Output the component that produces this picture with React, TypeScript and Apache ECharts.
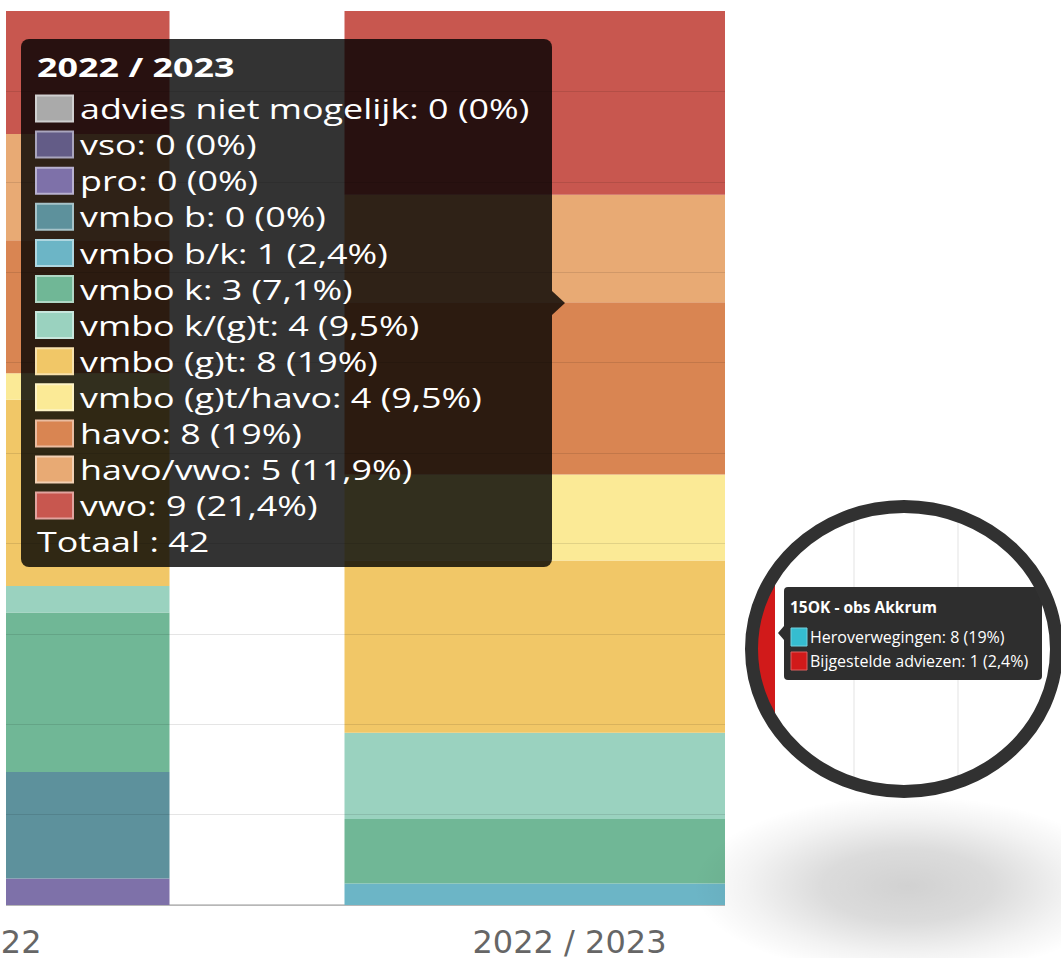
import React, { useEffect, useRef } from "react";
import * as echarts from "echarts";

// ---------- data ----------
const categories = ["2021 / 2022", "2022 / 2023"];
const adviesNames = [
  "advies niet mogelijk",
  "vso",
  "pro",
  "vmbo b",
  "vmbo b/k",
  "vmbo k",
  "vmbo k/(g)t",
  "vmbo (g)t",
  "vmbo (g)t/havo",
  "havo",
  "havo/vwo",
  "vwo",
];
const counts2122 = [0, 0, 1, 4, 0, 6, 1, 7, 1, 5, 4, 5];
const counts2223 = [0, 0, 0, 0, 1, 3, 4, 8, 4, 8, 5, 9];
const tooltipCategoryIndex = 1;

const lensTitle = "15OK - obs Akkrum";
const lensNames = ["Heroverwegingen", "Bijgestelde adviezen"];
const lensCounts = [8, 1];
const lensTotal = 42;

// ---------- styles ----------
const barColors = [
  "#aaaaaa",
  "#635c87",
  "#7e71a9",
  "#5d919c",
  "#6cb5c6",
  "#70b796",
  "#9ad2bf",
  "#f1c767",
  "#fbea96",
  "#d98552",
  "#e8aa74",
  "#c8574f",
];
const lensColors = ["#35bdd0", "#d11a1a"];

const sum = (a: number[]) => a.reduce((s, v) => s + v, 0);
const fmtPct = (c: number, t: number) =>
  String(Math.round((c / t) * 1000) / 10).replace(".", ",");

function lighten(hex: string, f: number) {
  const n = parseInt(hex.slice(1), 16);
  const r = (n >> 16) & 255, g = (n >> 8) & 255, b = n & 255;
  const m = (v: number) => Math.round(v + (255 - v) * f);
  return `rgb(${m(r)},${m(g)},${m(b)})`;
}

// the chart canvas starts left of the visible page (picture is a crop)
const OX = 368;
const PAGE_W = 1061;
const PAGE_H = 958;

export default function App() {
  const ref = useRef<HTMLDivElement>(null);

  useEffect(() => {
    if (!ref.current) return;
    const chart = echarts.init(ref.current, undefined, { renderer: "svg" });

    const allCounts = [counts2122, counts2223];
    const series = adviesNames.map((name, i) => ({
      name,
      type: "bar",
      stack: "total",
      barWidth: 450,
      clip: true,
      itemStyle: { color: barColors[i] },
      data: allCounts.map((arr) => (arr[i] / sum(arr)) * 100),
    }));

    const tipCounts = allCounts[tooltipCategoryIndex];
    const tipTotal = sum(tipCounts);
    const SX = 1.33;
    const FONT = '"Open Sans", "Noto Sans", sans-serif';
    const g: any[] = [];
    const Z = 100;

    // white covers (cropped picture edges)
    g.push({ type: "rect", z: Z, shape: { x: 0, y: 0, width: PAGE_W, height: 11 }, style: { fill: "#fff" } });
    g.push({ type: "rect", z: Z, shape: { x: 725, y: 0, width: 336, height: PAGE_H }, style: { fill: "#fff" } });
    g.push({ type: "rect", z: Z, shape: { x: 0, y: 0, width: 6, height: 912 }, style: { fill: "#fff" } });

    // ---- main tooltip (drawn) ----
    g.push({
      type: "rect", z: Z + 1,
      shape: { x: 21, y: 39, width: 531, height: 528, r: 8 },
      style: { fill: "rgba(0,0,0,0.8)" },
    });
    g.push({
      type: "polygon", z: Z + 1,
      shape: { points: [[552, 291], [565, 303], [552, 315]] },
      style: { fill: "rgba(0,0,0,0.8)" },
    });
    g.push({
      type: "text", z: Z + 2, x: 37, y: 66.5, scaleX: SX,
      style: {
        text: categories[tooltipCategoryIndex], fill: "#fff", fontSize: 27, fontWeight: "bold",
        fontFamily: FONT, align: "left", verticalAlign: "middle",
      },
    });
    const rowY0 = 108.5, rowStep = 36.1;
    adviesNames.forEach((name, i) => {
      const y = rowY0 + i * rowStep;
      g.push({
        type: "rect", z: Z + 2,
        shape: { x: 36, y: y - 13, width: 37, height: 26 },
        style: { fill: barColors[i], stroke: lighten(barColors[i], 0.45), lineWidth: 2 },
      });
      g.push({
        type: "text", z: Z + 2, x: 80, y, scaleX: SX,
        style: {
          text: `${name}: ${tipCounts[i]} (${fmtPct(tipCounts[i], tipTotal)}%)`,
          fill: "#fff", fontSize: 27, fontFamily: FONT, align: "left", verticalAlign: "middle",
        },
      });
    });
    g.push({
      type: "text", z: Z + 2, x: 37, y: rowY0 + adviesNames.length * rowStep, scaleX: SX,
      style: {
        text: `Totaal : ${tipTotal}`, fill: "#fff", fontSize: 27, fontFamily: FONT,
        align: "left", verticalAlign: "middle",
      },
    });

    // ---- magnifier ----
    const cx = 904, cy = 649;
    g.push({
      type: "circle", z: Z, x: 908, y: 886, scaleY: 0.42,
      shape: { cx: 0, cy: 0, r: 215 },
      style: {
        fill: new echarts.graphic.RadialGradient(0.5, 0.5, 0.5, [
          { offset: 0, color: "rgba(0,0,0,0.18)" },
          { offset: 0.4, color: "rgba(0,0,0,0.14)" },
          { offset: 0.75, color: "rgba(0,0,0,0.05)" },
          { offset: 1, color: "rgba(0,0,0,0)" },
        ]),
      },
    });
    g.push({ type: "ellipse", z: Z, shape: { cx, cy, rx: 150, ry: 140 }, style: { fill: "#fff" } });
    [854, 958].forEach((gx) => {
      const h = 140 * Math.sqrt(1 - ((gx - cx) / 150) ** 2);
      g.push({
        type: "line", z: Z + 1,
        shape: { x1: gx, y1: cy - h, x2: gx, y2: cy + h },
        style: { stroke: "#e3e3e3", lineWidth: 1 },
      });
    });
    const barRight = 775;
    const th = Math.acos((barRight - cx) / 150);
    const pts: number[][] = [];
    const steps = 40;
    for (let k = 0; k <= steps; k++) {
      const a = th + ((2 * Math.PI - 2 * th) * k) / steps;
      pts.push([cx + 150 * Math.cos(a), cy + 140 * Math.sin(a)]);
    }
    g.push({ type: "polygon", z: Z + 1, shape: { points: pts }, style: { fill: lensColors[1] } });

    g.push({
      type: "rect", z: Z + 2, shape: { x: 784, y: 587, width: 258, height: 93, r: 4 },
      style: { fill: "#2e2e2e" },
    });
    g.push({
      type: "polygon", z: Z + 2, shape: { points: [[784, 626], [778, 633], [784, 640]] },
      style: { fill: "#2e2e2e" },
    });
    g.push({
      type: "text", z: Z + 3, x: 790, y: 607,
      style: {
        text: lensTitle, fill: "#fff", fontSize: 15.5, fontWeight: "bold", fontFamily: FONT,
        align: "left", verticalAlign: "middle",
      },
    });
    lensNames.forEach((name, i) => {
      const y = 637 + i * 24;
      g.push({
        type: "rect", z: Z + 3, shape: { x: 791, y: y - 9, width: 16, height: 18 },
        style: { fill: lensColors[i], stroke: lighten(lensColors[i], 0.3), lineWidth: 1 },
      });
      g.push({
        type: "text", z: Z + 3, x: 810, y,
        style: {
          text: `${name}: ${lensCounts[i]} (${fmtPct(lensCounts[i], lensTotal)}%)`,
          fill: "#fff", fontSize: 16, fontFamily: FONT, align: "left", verticalAlign: "middle",
        },
      });
    });
    g.push({
      type: "ellipse", z: Z + 4, shape: { cx, cy, rx: 152.5, ry: 142.5 },
      style: { fill: "none", stroke: "#313131", lineWidth: 13 },
    });

    chart.setOption({
      animation: false,
      backgroundColor: "#fff",
      grid: { left: 0, width: 1250, top: 1, bottom: 53 },
      xAxis: {
        type: "category",
        data: categories,
        axisTick: { show: false },
        axisLine: { lineStyle: { color: "#cccccc", width: 2 } },
        axisLabel: { color: "#666", fontSize: 32, fontFamily: '"DejaVu Sans", sans-serif', margin: 21 },
      },
      yAxis: {
        type: "value",
        min: 0,
        max: 100,
        interval: 10,
        z: 3,
        axisLabel: { show: false },
        axisLine: { show: false },
        axisTick: { show: false },
        splitLine: { lineStyle: { color: "rgba(0,0,0,0.1)", width: 1 } },
      },
      series,
      graphic: { elements: [{ type: "group", x: OX, y: 0, children: g }] },
    });

    return () => chart.dispose();
  }, []);

  return (
    <div style={{ position: "fixed", left: 0, top: 0, width: PAGE_W, height: PAGE_H, overflow: "hidden", background: "#fff" }}>
      <div
        ref={ref}
        style={{ position: "absolute", left: -OX, top: 0, width: PAGE_W + OX, height: PAGE_H }}
      />
    </div>
  );
}
